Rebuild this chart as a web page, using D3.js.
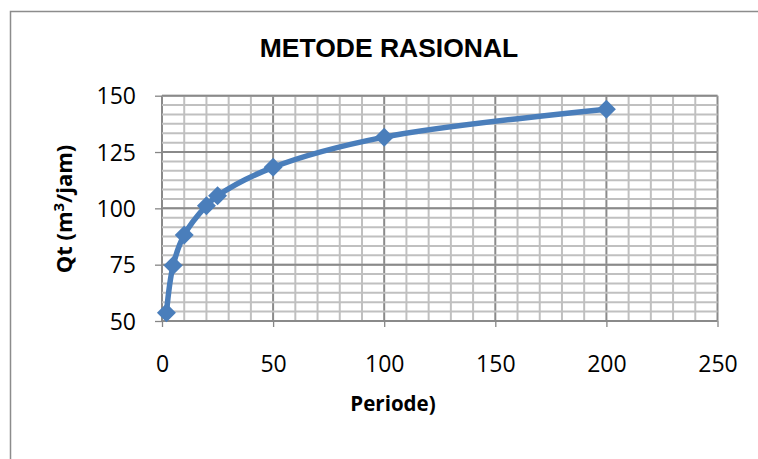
<!DOCTYPE html>
<html>
  <head>
    <meta charset="utf-8">
    <title>Metode Rasional</title>
    <script src="https://cdn.jsdelivr.net/npm/d3@7"></script>
    <style>
      body { margin: 0; background: #fff; }
      #chart { display: block; }
      .tick text { font-family: "Open Sans", sans-serif; font-size: 23px; fill: #000; }
      .axis path { display: none; }
      .axis line { stroke: #868686; stroke-width: 1.3; }
      .minor { stroke: #c0c0c0; stroke-width: 2; }
      .major { stroke: #8a8a8a; stroke-width: 2; }
      .label { font-family: "Open Sans", sans-serif; font-weight: bold; }
      .title { font-family: "Liberation Sans", Arial, sans-serif; font-size: 26.5px; font-weight: bold; }
    </style>
  </head>

  <body>
    <svg id="chart" width="758" height="459">
      <rect id="frame"></rect>
      <g id="gridGroup"></g>
      <g id="xAxisGroup" class="axis"></g>
      <g id="yAxisGroup" class="axis"></g>
      <g id="chartGroup"></g>
      <text id="title" class="title">METODE RASIONAL</text>
      <text id="xLabel" class="label" font-size="20.5">Periode)</text>
      <text id="yLabel" class="label" font-size="22">Qt (m<tspan font-size="15" dy="-8">3</tspan><tspan dy="8">/jam)</tspan></text>
    </svg>

    <script>
      // data
      periode = [2, 5, 10, 20, 25, 50, 100, 200];
      qt = [53.7, 74.6, 88.2, 101.2, 105.6, 118.2, 131.6, 144.0];
      xTicks = [0, 50, 100, 150, 200, 250];
      yTicks = [50, 75, 100, 125, 150];

      // page elements
      chart = d3.select("#chart");
      gridGroup = d3.select("#gridGroup");
      chartGroup = d3.select("#chartGroup");
      xAxisGroup = d3.select("#xAxisGroup");
      yAxisGroup = d3.select("#yAxisGroup");

      margin = { top: 95.7, right: 758 - 717.5, bottom: 459 - 321, left: 162 };
      width = 758;
      height = 459;

      x = d3.scaleLinear()
        .domain([0, 250])
        .range([margin.left, width - margin.right]);
      y = d3.scaleLinear()
        .domain([50, 150])
        .range([height - margin.bottom, margin.top]);

      // outer chart frame (runs off the bottom and right of the picture)
      d3.select("#frame")
        .attr("x", 10.5)
        .attr("y", 11.5)
        .attr("width", 800)
        .attr("height", 500)
        .attr("fill", "none")
        .attr("stroke", "#8c8c8c")
        .attr("stroke-width", 1.5);

      // minor grid: 10 along x, six steps per major along y
      xMinor = d3.range(0, 251, 10);
      yMinor = d3.range(0, 25).map(function(i) { return 50 + i * 25 / 6; });

      gridGroup.selectAll(".vminor")
        .data(xMinor)
        .enter().append("line")
          .attr("class", function(d) { return d % 50 === 0 ? "major" : "minor"; })
          .attr("x1", function(d) { return x(d); })
          .attr("x2", function(d) { return x(d); })
          .attr("y1", y(150))
          .attr("y2", y(50));
      gridGroup.selectAll(".hminor")
        .data(yMinor)
        .enter().append("line")
          .attr("class", "minor")
          .attr("x1", x(0))
          .attr("x2", x(250))
          .attr("y1", function(d) { return y(d); })
          .attr("y2", function(d) { return y(d); });
      gridGroup.selectAll(".hmajor")
        .data(yTicks)
        .enter().append("line")
          .attr("class", "major")
          .attr("x1", x(0))
          .attr("x2", x(250))
          .attr("y1", function(d) { return y(d); })
          .attr("y2", function(d) { return y(d); });

      // axes
      xAxis = d3.axisBottom(x)
        .tickValues(xTicks)
        .tickSize(6)
        .tickPadding(29);
      yAxis = d3.axisLeft(y)
        .tickValues(yTicks)
        .tickSize(7)
        .tickPadding(19);
      xAxisGroup.attr("transform", "translate(0, " + y(50) + ")")
        .call(xAxis);
      yAxisGroup.attr("transform", "translate(" + x(0) + ", 0)")
        .call(yAxis);
      xAxisGroup.selectAll("text").attr("dy", "0.71em");
      yAxisGroup.selectAll("text").attr("dy", "0.36em");

      // series
      points = periode.map(function(p, i) { return { periode: p, qt: qt[i] }; });
      line = d3.line()
        .x(function(d) { return x(d.periode); })
        .y(function(d) { return y(d.qt); })
        .curve(d3.curveCatmullRom.alpha(0.5));

      chartGroup.append("path")
        .datum(points)
        .attr("d", line)
        .attr("fill", "none")
        .attr("stroke", "#4a7ebb")
        .attr("stroke-width", 5.5)
        .attr("stroke-linejoin", "round");

      chartGroup.selectAll(".marker")
        .data(points)
        .enter().append("path")
          .attr("class", "marker")
          .attr("d", d3.symbol().type(d3.symbolSquare).size(180))
          .attr("transform", function(d) {
            return "translate(" + x(d.periode) + ", " + y(d.qt) + ") rotate(45)";
          })
          .attr("fill", "#4a7ebb");

      // labels
      d3.select("#title")
        .attr("x", 389)
        .attr("y", 57)
        .attr("text-anchor", "middle");
      d3.select("#xLabel")
        .attr("x", 393)
        .attr("y", 411)
        .attr("text-anchor", "middle");
      d3.select("#yLabel")
        .attr("text-anchor", "middle")
        .attr("transform", "translate(72, 209) rotate(-90)");
    </script>
  </body>
</html>
